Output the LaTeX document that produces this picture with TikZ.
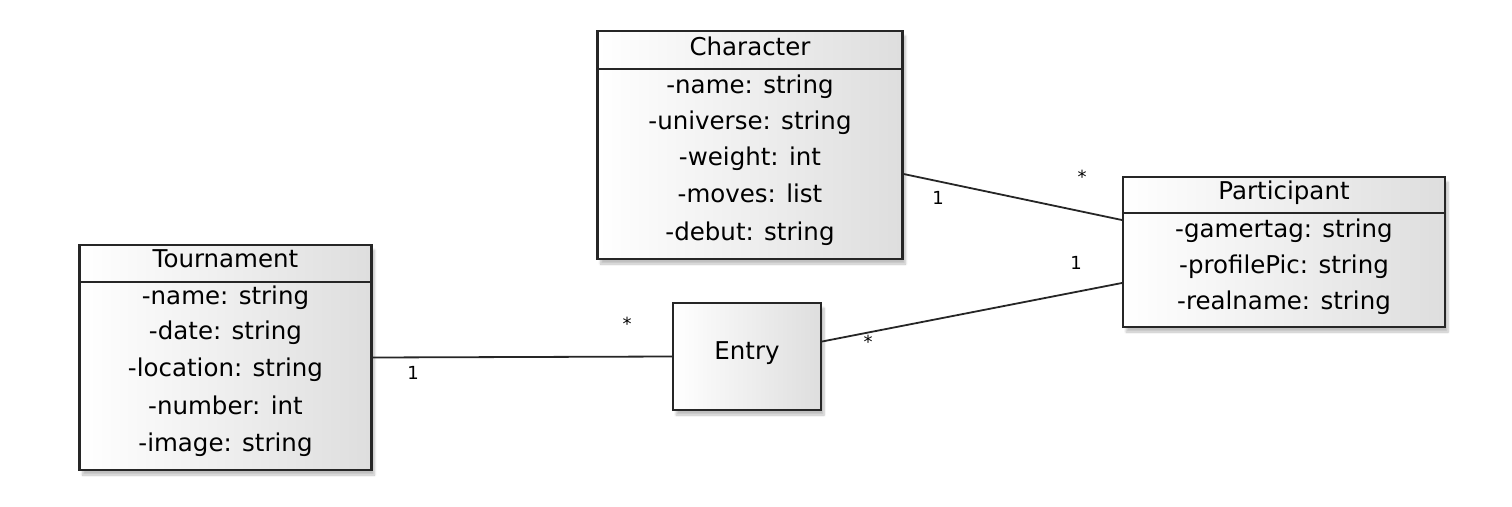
\documentclass[tikz,border=0pt]{standalone}
\usepackage{fontspec}
\setmainfont{DejaVu Sans}
\usetikzlibrary{shadows.blur,calc}
\begin{document}
\begin{tikzpicture}[x=1pt,y=-1pt,
  classbox/.style={draw=black!85, line width=2.2pt, inner sep=0pt,
    left color=white, right color=black!13,
    blur shadow={shadow xshift=3pt, shadow yshift=-5pt, shadow opacity=25, shadow blur steps=6}},
  sep/.style={draw=black!85, line width=2pt},
  txt/.style={font=\fontsize{24.5}{28}\selectfont, inner sep=0pt, anchor=center, text height=0.72em, text depth=0.2em, yshift=-4pt},
  conn/.style={draw=black!85, line width=1.8pt},
  mult/.style={font=\fontsize{18}{20}\selectfont, inner sep=0pt}]
\useasboundingbox (0,0) rectangle (1512,506);
% Character
\node[classbox, minimum width=305pt, minimum height=228pt] (C) at (750,145) {};
\draw[sep] (C.west |- 0,69) coordinate (c1) -- (C.east |- 0,69) coordinate (c2);
\node[txt] (Ct) at (750,49) {Character};
\node[txt] (C1) at (750,87) {-name: string};
\node[txt] (C2) at (750,123) {-universe: string};
\node[txt] (C3) at (750,159) {-weight: int};
\node[txt] (C4) at (750,196) {-moves: list};
\node[txt] (C5) at (750,234) {-debut: string};
% Tournament
\node[classbox, minimum width=292pt, minimum height=225pt] (T) at (225.5,357.5) {};
\draw[sep] (T.west |- 0,282) -- (T.east |- 0,282);
\node[txt] (Tt) at (225.5,261) {Tournament};
\node[txt] (T1) at (225.5,298) {-name: string};
\node[txt] (T2) at (225.5,333) {-date: string};
\node[txt] (T3) at (225.5,370) {-location: string};
\node[txt] (T4) at (225.5,408) {-number: int};
\node[txt] (T5) at (225.5,445) {-image: string};
% Participant
\node[classbox, minimum width=322pt, minimum height=150pt] (P) at (1284,252) {};
\draw[sep] (P.west |- 0,213) -- (P.east |- 0,213);
\node[txt] (Pt) at (1284,193) {Participant};
\node[txt] (P1) at (1284,231) {-gamertag: string};
\node[txt] (P2) at (1284,267) {-profilePic: string};
\node[txt] (P3) at (1284,303) {-realname: string};
% Entry
\node[classbox, minimum width=148pt, minimum height=107pt] (E) at (747,356.5) {};
\node[txt] (Et) at (747,353) {Entry};
% connectors
\draw[conn] (T.east) -- (E.west);
\draw[conn] ([yshift=15pt]E.east) -- ([yshift=-31pt]P.west);
\draw[conn] ([yshift=-29pt]C.east) -- ([yshift=32pt]P.west);
% multiplicities
\node[mult] (m1) at (413,373) {1};
\node[mult] (m2) at (627,324) {*};
\node[mult] (m3) at (868,342) {*};
\node[mult] (m4) at (1076,263) {1};
\node[mult] (m5) at (938,198) {1};
\node[mult] (m6) at (1082,177) {*};
\end{tikzpicture}
\end{document}
